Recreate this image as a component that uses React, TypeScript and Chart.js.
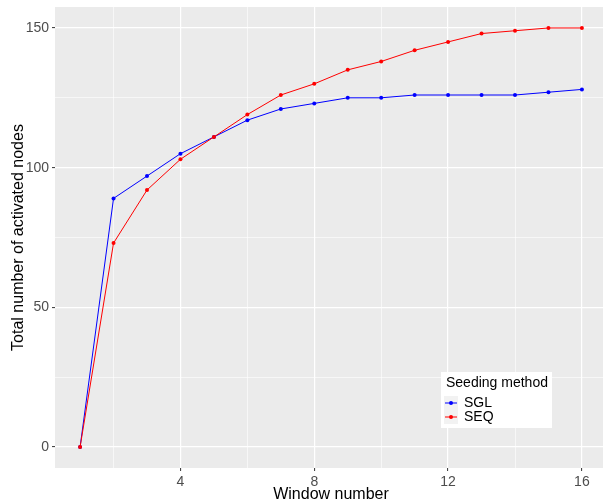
import React, { useEffect, useRef } from "react";
import { Chart, registerables } from "chart.js";

Chart.register(...registerables);

const windows = [1, 2, 3, 4, 5, 6, 7, 8, 9, 10, 11, 12, 13, 14, 15, 16];
const sglValues = [0, 89, 97, 105, 111, 117, 121, 123, 125, 125, 126, 126, 126, 126, 127, 128];
const seqValues = [0, 73, 92, 103, 111, 119, 126, 130, 135, 138, 142, 145, 148, 149, 150, 150];
const xTicks = [2, 4, 6, 8, 10, 12, 14, 16];
const xMajor = [4, 8, 12, 16];
const yTicks = [0, 25, 50, 75, 100, 125, 150];
const yMajor = [0, 50, 100, 150];
const seriesNames = ["SGL", "SEQ"];
const seriesColors = ["#0000FF", "#FF0000"];
const legendTitle = "Seeding method";
const xTitle = "Window number";
const yTitle = "Total number of activated nodes";

const FONT = "'Liberation Sans', Arial, Helvetica, sans-serif";

const bgPlugin = {
  id: "panelBg",
  beforeDraw(chart: any) {
    const { ctx, chartArea } = chart;
    ctx.save();
    ctx.fillStyle = "#EBEBEB";
    ctx.fillRect(chartArea.left, chartArea.top, chartArea.right - chartArea.left, chartArea.bottom - chartArea.top);
    ctx.restore();
  },
};

const legendPlugin = {
  id: "ggLegend",
  afterDraw(chart: any) {
    const { ctx } = chart;
    ctx.save();
    ctx.fillStyle = "#FFFFFF";
    ctx.fillRect(441, 372, 111, 56);
    ctx.fillStyle = "#000000";
    ctx.font = `14px ${FONT}`;
    ctx.textBaseline = "middle";
    ctx.textAlign = "left";
    ctx.fillText(legendTitle, 446, 383);
    seriesNames.forEach((name, i) => {
      const cy = 403 + i * 14;
      ctx.fillStyle = "#F2F2F2";
      ctx.fillRect(444, cy - 7, 14, 14);
      ctx.strokeStyle = seriesColors[i];
      ctx.lineWidth = 1;
      ctx.beginPath();
      ctx.moveTo(445, cy);
      ctx.lineTo(457, cy);
      ctx.stroke();
      ctx.fillStyle = seriesColors[i];
      ctx.beginPath();
      ctx.arc(451, cy, 2, 0, Math.PI * 2);
      ctx.fill();
      ctx.fillStyle = "#000000";
      ctx.font = `14px ${FONT}`;
      ctx.fillText(name, 464, cy + 0.5);
    });
    ctx.restore();
  },
};

export default function App() {
  const ref = useRef<HTMLCanvasElement | null>(null);
  useEffect(() => {
    if (!ref.current) return;
    const allValues = [sglValues, seqValues];
    const chart = new Chart(ref.current, {
      type: "line",
      data: {
        datasets: seriesNames.map((name, i) => ({
          label: name,
          data: windows.map((w, j) => ({ x: w, y: allValues[i][j] })),
          borderColor: seriesColors[i],
          backgroundColor: seriesColors[i],
          borderWidth: 1,
          pointRadius: 2,
          pointBorderWidth: 0,
          tension: 0,
          order: i === 1 ? 0 : 1,
        })),
      },
      options: {
        responsive: false,
        animation: false,
        devicePixelRatio: 1,
        layout: { padding: { top: 7, right: 0, bottom: 0, left: 0 } },
        plugins: { legend: { display: false }, tooltip: { enabled: false } },
        scales: {
          x: {
            type: "linear",
            min: 0.25,
            max: 16.75,
            afterBuildTicks: (s: any) => {
              s.ticks = xTicks.map((v) => ({ value: v }));
            },
            afterFit: (s: any) => {
              s.height = 36;
            },
            border: { display: false },
            grid: {
              color: "#FFFFFF",
              lineWidth: (c: any) => (xMajor.includes(c.tick?.value) ? 1.2 : 0.6),
              tickColor: (c: any) => (xMajor.includes(c.tick?.value) ? "#333333" : "rgba(0,0,0,0)"),
              tickLength: 3,
              tickWidth: 1,
            },
            ticks: {
              color: "#4D4D4D",
              font: { family: FONT, size: 14 },
              padding: 3,
              maxRotation: 0,
              autoSkip: false,
              callback: (v: any) => (xMajor.includes(v) ? String(v) : ""),
            },
            title: {
              display: true,
              text: xTitle,
              color: "#000000",
              font: { family: FONT, size: 16 },
              padding: { top: 0, bottom: 0 },
            },
          },
          y: {
            type: "linear",
            min: -7.5,
            max: 157.5,
            afterBuildTicks: (s: any) => {
              s.ticks = yTicks.map((v) => ({ value: v }));
            },
            afterFit: (s: any) => {
              s.width = 55;
            },
            border: { display: false },
            grid: {
              color: "#FFFFFF",
              lineWidth: (c: any) => (yMajor.includes(c.tick?.value) ? 1.2 : 0.6),
              tickColor: (c: any) => (yMajor.includes(c.tick?.value) ? "#333333" : "rgba(0,0,0,0)"),
              tickLength: 3,
              tickWidth: 1,
            },
            ticks: {
              color: "#4D4D4D",
              font: { family: FONT, size: 14, lineHeight: 0.5 },
              padding: 3,
              autoSkip: false,
              callback: (v: any) => (yMajor.includes(v) ? String(v) : ""),
            },
            title: {
              display: true,
              text: yTitle,
              color: "#000000",
              font: { family: FONT, size: 16 },
              padding: { top: 9, bottom: 0 },
            },
          },
        },
      },
      plugins: [bgPlugin, legendPlugin],
    } as any);
    return () => chart.destroy();
  }, []);
  return (
    <div style={{ position: "fixed", left: 0, top: 0, width: 603, height: 504, overflow: "hidden", background: "#FFFFFF" }}>
      <canvas ref={ref} width={611} height={504} style={{ display: "block" }} />
    </div>
  );
}
